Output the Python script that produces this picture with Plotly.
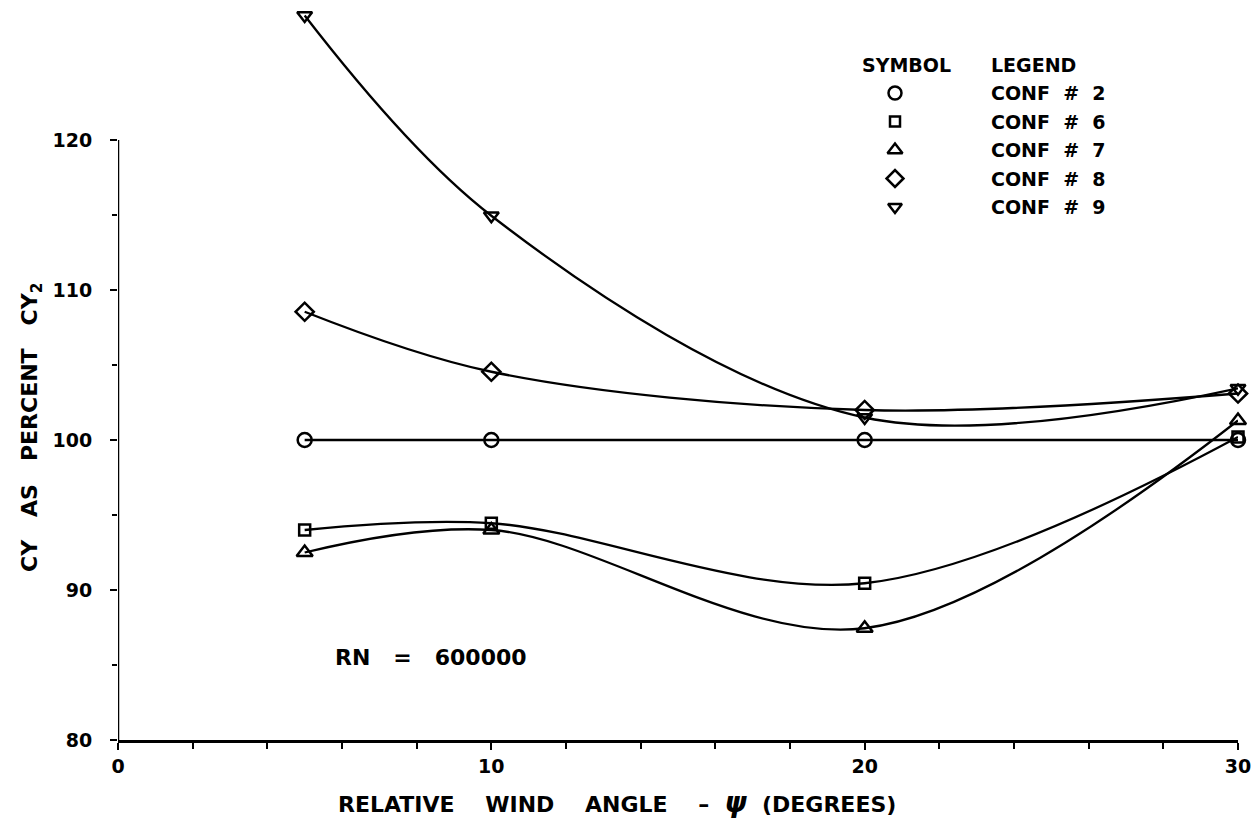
import plotly.graph_objects as go

# ---- data ----
angles = [5, 10, 20, 30]
conf2 = [100.0, 100.0, 100.0, 100.0]
conf6 = [94.0, 94.45, 90.45, 100.2]
conf7 = [92.5, 94.0, 87.45, 101.3]
conf8 = [108.55, 104.55, 102.0, 103.1]
conf9 = [128.3, 114.95, 101.5, 103.45]

series_names = ["CONF # 2", "CONF # 6", "CONF # 7", "CONF # 8", "CONF # 9"]
series_vals = [conf2, conf6, conf7, conf8, conf9]
symbols = ["circle-open", "square-open", "triangle-up-open", "diamond-open", "triangle-down-open"]
sizes = [14, 11, 14, 14, 13]

xticks = [0, 10, 20, 30]
yticks = [80, 90, 100, 110, 120]

FONT = "DejaVu Sans"
NB = "\u00a0"
W, H = 1258, 825
ML, MR, MT, MB = 118, 20, 0, 85
YMIN, YMAX = 80, 80 + (H - MB - MT) / 15.0

def spaced(s, n=2):
    return s.replace(" ", NB * n)

fig = go.Figure()
for name, vals, sym, sz in zip(series_names, series_vals, symbols, sizes):
    fig.add_trace(go.Scatter(
        x=angles, y=vals, mode="lines+markers", name=name,
        line=dict(color="black", width=2.3, shape="spline", smoothing=1.0),
        marker=dict(symbol=sym, size=sz, color="black", line=dict(width=2.5, color="black")),
        cliponaxis=False, showlegend=False))

# custom legend (symbol column + text column) positioned in pixel space
px_per_x = (W - ML - MR) / 30.0
px_per_y = 15.0
def px2x(px):
    return (px - ML) / px_per_x
def py2y(py):
    return YMIN + (H - MB - py) / px_per_y

TF = dict(family=FONT, size=19, color="black")
leg_sym_px = 895
leg_txt_px = 989
leg_top_py = 93
leg_pitch = 28.5
for i, (name, sym, sz) in enumerate(zip(series_names, symbols, sizes)):
    py = leg_top_py + i * leg_pitch
    fig.add_trace(go.Scatter(
        x=[px2x(leg_sym_px)], y=[py2y(py)], mode="markers",
        marker=dict(symbol=sym, size=sz - 1, color="black", line=dict(width=2.5, color="black")),
        cliponaxis=False, showlegend=False, hoverinfo="skip"))
    fig.add_annotation(x=px2x(leg_txt_px), y=py2y(py), text="<b>" + spaced(name) + "</b>", showarrow=False,
                       xanchor="left", yanchor="middle", font=TF)
fig.add_annotation(x=px2x(860), y=py2y(65), text="<b>SYMBOL</b>", showarrow=False,
                   xanchor="left", yanchor="middle", font=TF)
fig.add_annotation(x=px2x(989), y=py2y(65), text="<b>LEGEND</b>", showarrow=False,
                   xanchor="left", yanchor="middle", font=TF)

fig.add_annotation(x=px2x(333), y=py2y(657), text="<b>RN" + NB * 3 + "=" + NB * 3 + "600000</b>", showarrow=False,
                   xanchor="left", yanchor="middle", font=dict(family=FONT, size=22, color="black"))

# axis titles
fig.add_annotation(xref="paper", yref="paper", x=(617 - ML) / (W - ML - MR), y=-(803 - (H - MB)) / (H - MB - MT),
                   text="<b>RELATIVE" + NB * 4 + "WIND" + NB * 4 + "ANGLE" + NB * 4 + "–" + NB * 2
                        + "<span style='font-size:28px'><i>ψ</i></span>" + NB * 2 + "(DEGREES)</b>",
                   showarrow=False, xanchor="center", yanchor="middle",
                   font=dict(family=FONT, size=22, color="black"))
fig.add_annotation(xref="paper", x=-(ML - 31) / (W - ML - MR), y=py2y(428),
                   text="<b>CY" + NB * 3 + "AS" + NB * 3 + "PERCENT" + NB * 3 + "CY<sub>2</sub></b>",
                   textangle=-90, showarrow=False, xanchor="center", yanchor="middle",
                   font=dict(family=FONT, size=22, color="black"))

# y axis line only from 80 to 120
fig.add_shape(type="line", x0=0, x1=0, y0=80, y1=120, line=dict(color="black", width=2.5))

fig.update_layout(
    width=W, height=H, margin=dict(l=ML, r=MR, t=MT, b=MB),
    plot_bgcolor="white", paper_bgcolor="white", showlegend=False,
    font=dict(family=FONT, color="black"),
)
fig.update_xaxes(range=[0, 30], tickvals=xticks, ticktext=["<b>%d</b>" % v for v in xticks],
                 showgrid=False, zeroline=False, showline=True, linecolor="black", linewidth=2.5,
                 ticks="outside", ticklen=7, tickwidth=2, tickcolor="black",
                 tickfont=TF,
                 minor=dict(tickvals=[v for v in range(2, 30, 2) if v % 10], ticks="outside",
                            ticklen=6, tickwidth=2, tickcolor="black", showgrid=False))
fig.update_yaxes(range=[YMIN, YMAX], tickvals=yticks, ticktext=["<b>%d</b>" % v for v in yticks],
                 showgrid=False, zeroline=False, showline=False,
                 ticks="outside", ticklen=7, tickwidth=2, tickcolor="black", ticklabelstandoff=14,
                 tickfont=TF,
                 minor=dict(tickvals=[85, 95, 105, 115], ticks="outside", ticklen=5,
                            tickwidth=2, tickcolor="black", showgrid=False))

fig.write_html("out.html")
